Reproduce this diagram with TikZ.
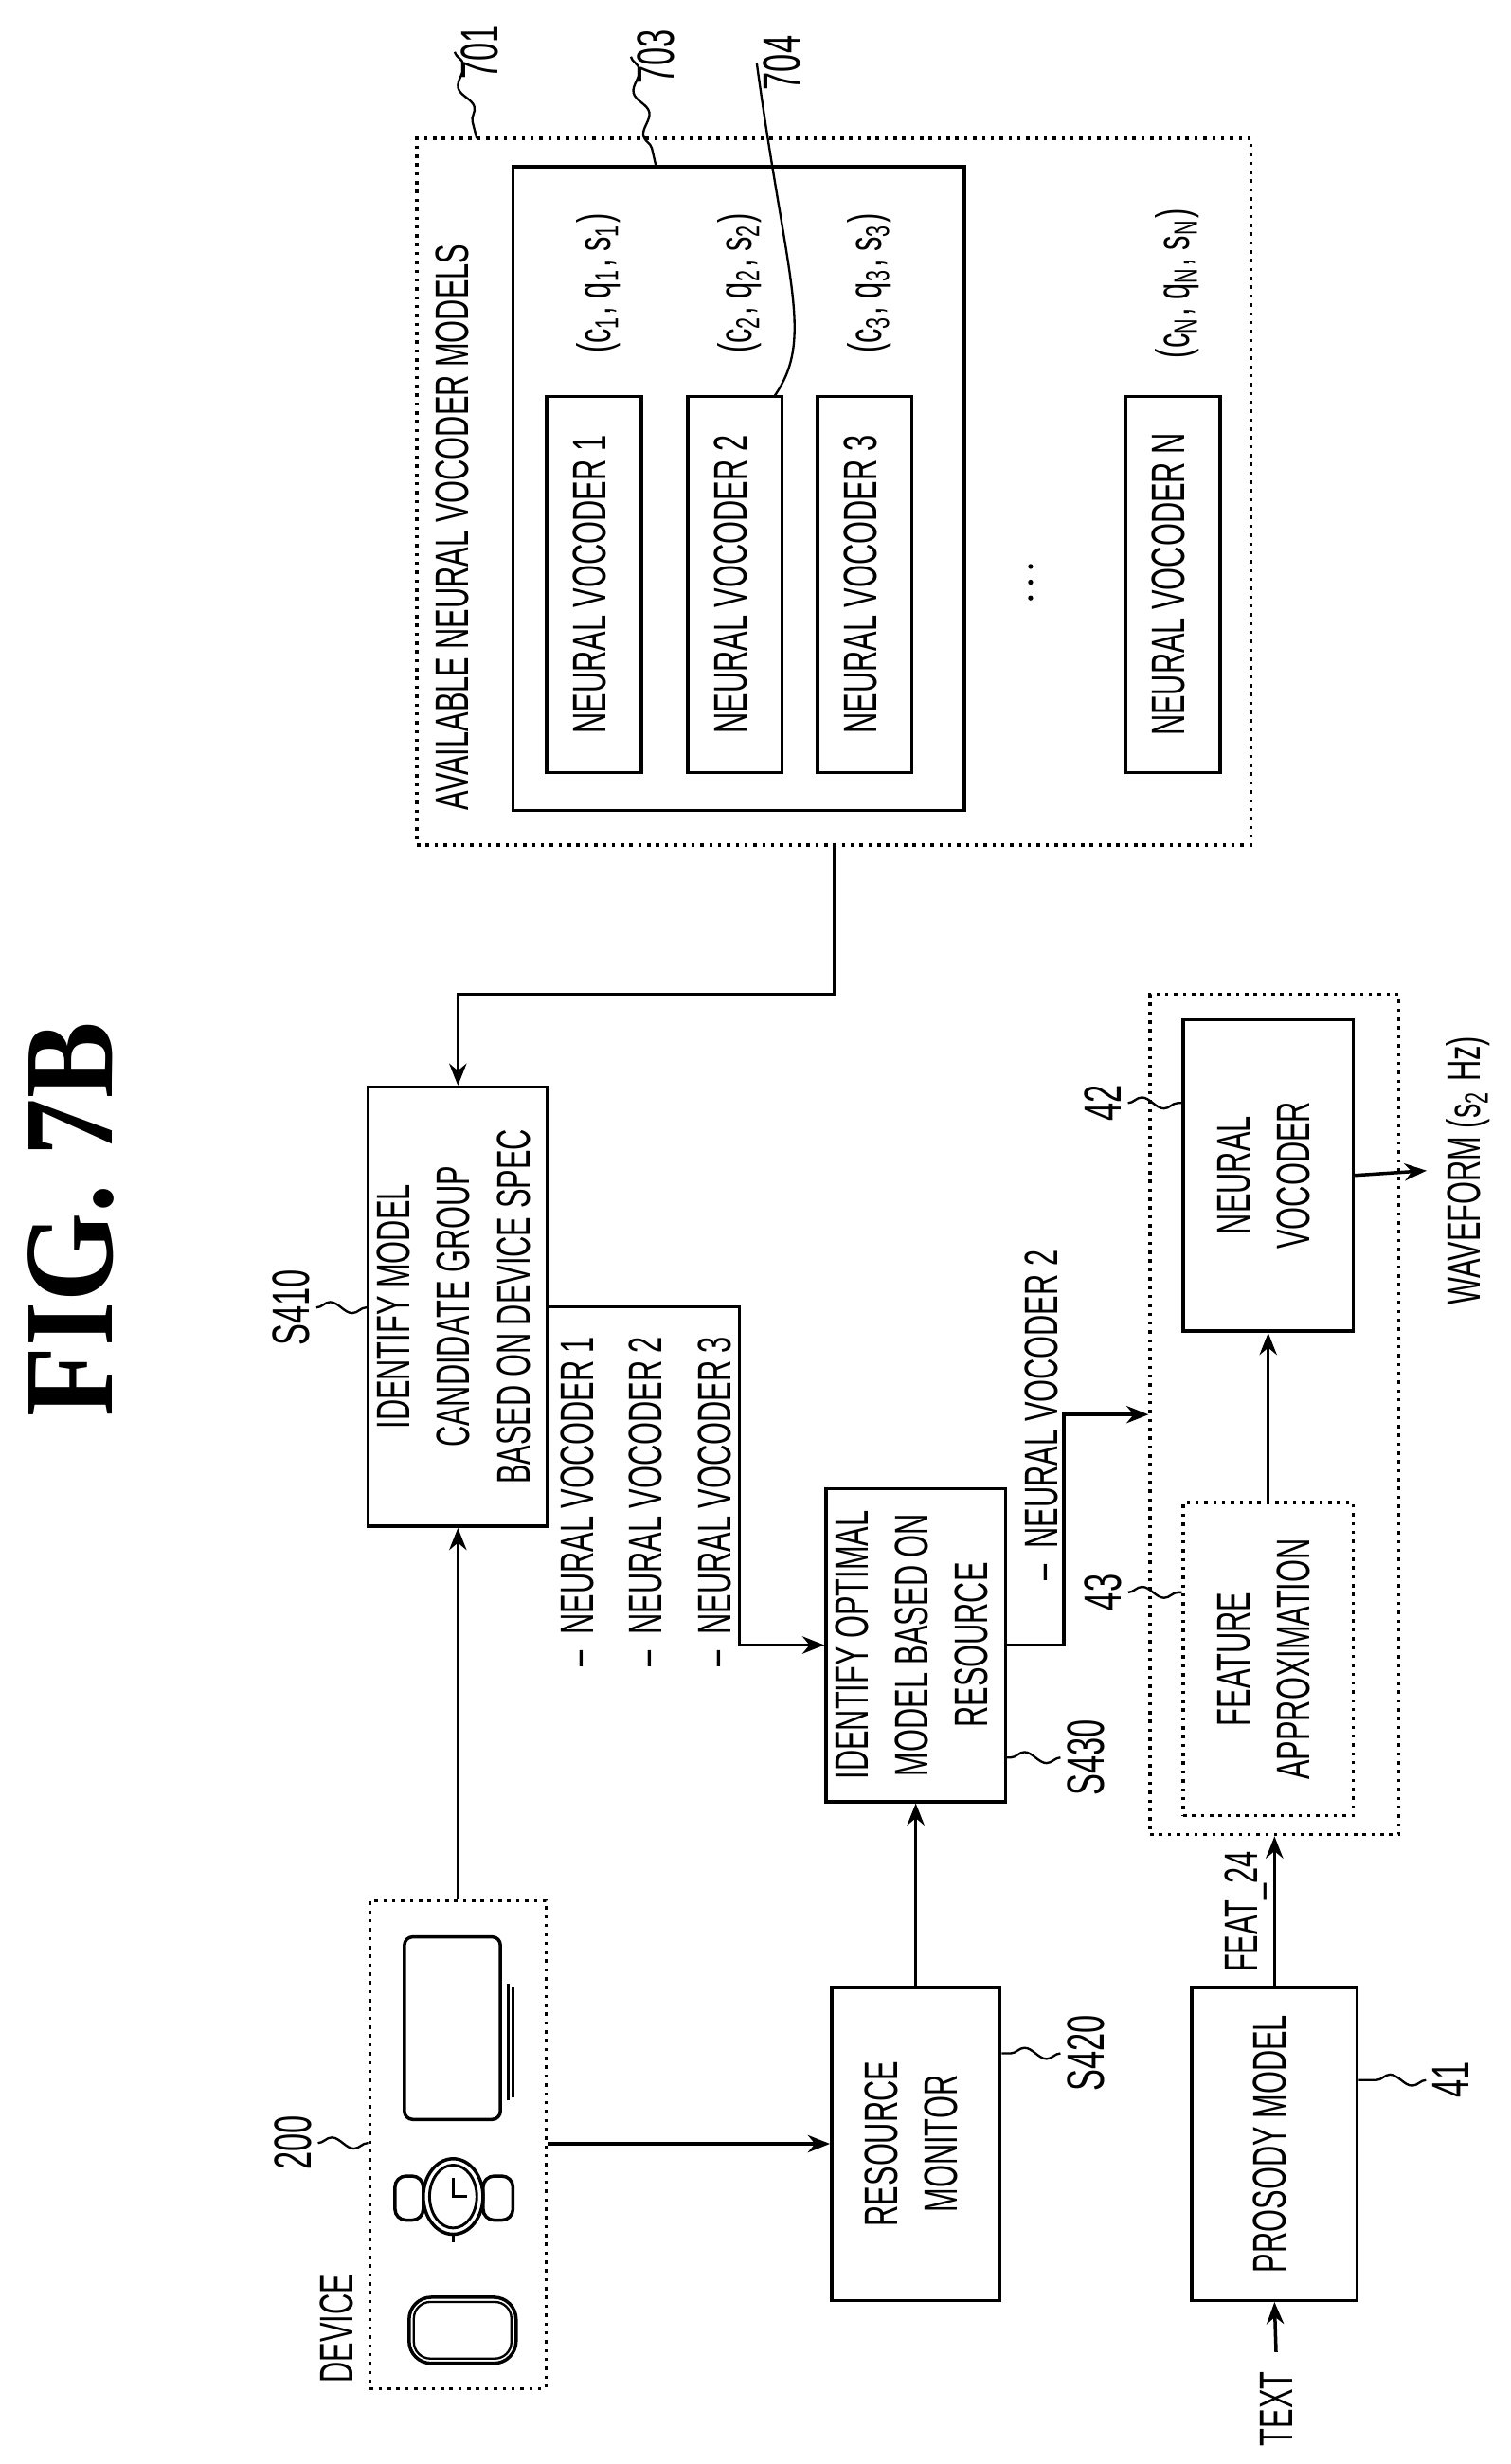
\documentclass[tikz,border=0pt]{standalone}
\usepackage{fontspec}
\setmainfont{Liberation Sans}[FakeStretch=0.62]
\newfontfamily\figfont{Liberation Serif}[FakeStretch=0.9]
\usetikzlibrary{arrows.meta,decorations.pathmorphing}
\newcommand{\vtxt}[2][c]{\rotatebox{90}{\begin{tabular}{@{}#1@{}}#2\end{tabular}}}
\begin{document}
\begin{tikzpicture}[x=0.01cm,y=-0.01cm,
  font=\fontsize{8.5}{10.8}\selectfont,
  box/.style={draw, line width=0.6pt, inner sep=0pt},
  dbox/.style={draw, line width=0.6pt, densely dotted, inner sep=0pt},
  arr/.style={line width=0.6pt, -{Stealth[length=1.4mm,width=1.1mm]}},
  lead/.style={line width=0.4pt, decorate, decoration={snake, amplitude=1pt, segment length=8pt}},
  num/.style={font=\fontsize{9.5}{11}\selectfont, inner sep=1pt}]
\useasboundingbox (0,0) rectangle (960,1566);
\node [font=\figfont\bfseries\fontsize{23}{26}\selectfont] (fig) at (45,775) {\rotatebox{90}{FIG. 7B}};
% model pool
\node [dbox, minimum width=530*0.01cm, minimum height=449*0.01cm] (m701) at (530,312.5) {};
\node [box, minimum width=287*0.01cm, minimum height=409*0.01cm] (m703) at (469.5,310.5) {};
\node (ttl) at (290,335) {\vtxt{AVAILABLE NEURAL VOCODER MODELS}};
\foreach \n/\x/\k in {nv1/377.5/1, nv2/467/2, nv3/549.5/3, nvN/745.5/N} {
  \node [box, minimum width=60*0.01cm, minimum height=239*0.01cm] (\n) at (\x,371.5) {\vtxt{NEURAL VOCODER \k}};
  \node (\n c) at (\x+3,180) {\vtxt{(c\textsubscript{\k}, q\textsubscript{\k}, s\textsubscript{\k})}};
}
\foreach \y in {360,370,380} \fill (655,\y) circle [radius=1.6];
\node [num] (l701) at (305,33) {\rotatebox{90}{701}};
\node [num] (l703) at (417,36) {\rotatebox{90}{703}};
\node [num] (l704) at (497,40) {\rotatebox{90}{704}};
\draw [lead] (l701.west) -- (303,88);
\draw [lead] (l703.west) -- (417,106);
\draw [line width=0.4pt] (l704.west) .. controls (500,180) and (518,215) .. (492,252);
% steps
\node [box, minimum width=106*0.01cm, minimum height=279*0.01cm] (idm) at (291,830.5) {\vtxt{IDENTIFY MODEL\\CANDIDATE GROUP\\BASED ON DEVICE SPEC}};
\node [box, minimum width=107*0.01cm, minimum height=199*0.01cm] (opt) at (582,1045.5) {\vtxt{IDENTIFY OPTIMAL\\MODEL BASED ON\\RESOURCE}};
\node [box, minimum width=107*0.01cm, minimum height=199*0.01cm] (mon) at (582,1362.5) {\vtxt{RESOURCE\\MONITOR}};
\node [dbox, minimum width=112*0.01cm, minimum height=310*0.01cm] (dev) at (291,1363) {};
\node (devt) at (214,1480) {\rotatebox{90}{DEVICE}};
\node (cand) [anchor=south] at (412,1072) {\rotatebox{90}{\renewcommand{\arraystretch}{1.15}\begin{tabular}{@{}l@{}}--\ \ NEURAL VOCODER 1\\--\ \ NEURAL VOCODER 2\\--\ \ NEURAL VOCODER 3\end{tabular}}};
\node (sel) [anchor=south] at (662,1017) {\rotatebox{90}{--\ \ NEURAL VOCODER 2}};
% synthesis
\node [dbox, minimum width=158*0.01cm, minimum height=534*0.01cm] (grp) at (810,899) {};
\node [box, minimum width=108*0.01cm, minimum height=198*0.01cm] (voc) at (806,747) {\vtxt{NEURAL\\VOCODER}};
\node [dbox, minimum width=108*0.01cm, minimum height=199*0.01cm] (fea) at (806,1054.5) {\vtxt{FEATURE\\APPROXIMATION}};
\node [box, minimum width=105*0.01cm, minimum height=199*0.01cm] (pro) at (810,1362.5) {\vtxt{PROSODY MODEL}};
\node (wav) at (933,744) {\rotatebox{90}{WAVEFORM (s\textsubscript{2} Hz)}};
\node (feat) at (792,1215) {\rotatebox{90}{FEAT\_24}};
\node (txt) at (811,1531) {\rotatebox{90}{TEXT}};
% device icons
\draw [line width=0.6pt, rounded corners=1.5] (257,1231) rectangle (318,1347);
\draw [line width=0.5pt] (323,1261) -- (323,1335) (326,1263) -- (326,1333);
\draw [line width=0.6pt, rounded corners=2] (251,1383) rectangle (269,1411) (307,1383) rectangle (326,1411);
\draw [line width=0.6pt, fill=white] (288,1396) ellipse [x radius=19, y radius=24];
\draw [line width=0.5pt] (288,1396) ellipse [x radius=15, y radius=20];
\draw [line width=0.6pt] (288,1420) -- (288,1425);
\draw [line width=0.6pt] (288,1384) -- (288,1396) -- (297,1396);
\draw [line width=0.6pt, rounded corners=4] (260,1460) rectangle (328,1502);
\draw [line width=0.4pt, rounded corners=3] (263,1463) rectangle (325,1499);
% reference labels
\node [num] (s410) at (185,831) {\rotatebox{90}{S410}};
\node [num] (s430) at (690,1117) {\rotatebox{90}{S430}};
\node [num] (s420) at (690,1305) {\rotatebox{90}{S420}};
\node [num] (l200) at (186,1362) {\rotatebox{90}{200}};
\node [num] (l42) at (701,701) {\rotatebox{90}{42}};
\node [num] (l43) at (701,1012) {\rotatebox{90}{43}};
\node [num] (l41) at (922,1322) {\rotatebox{90}{41}};
\draw [lead] (s410.east) -- (idm.west |- s410.east);
\draw [lead] (s430.west) -- (opt.east |- s430.west);
\draw [lead] (s420.west) -- (mon.east |- s420.west);
\draw [lead] (l200.east) -- (dev.west |- l200.east);
\draw [lead] (l42.east) -- (voc.west |- l42.east);
\draw [lead] (l43.east) -- (fea.west |- l43.east);
\draw [lead] (l41.west) -- (pro.east |- l41.west);
% connectors
\draw [arr] (m701.south) -- (530,632) -| (idm.north);
\draw [arr] (dev.north) -- (idm.south);
\draw [arr] (idm.east) -| (470,1045.5) -- (opt.west);
\draw [arr] (opt.east) -| (676,899) -- (grp.west);
\draw [arr] (mon.north) -- (opt.south);
\draw [arr] (dev.east |- mon.west) -- (mon.west);
\draw [arr] (pro.north) -- (grp.south);
\draw [arr] (fea.north) -- (voc.south);
\draw [arr] (voc.east) -- (wav.west);
\draw [arr] (txt.north) -- (pro.south);
\end{tikzpicture}
\end{document}
